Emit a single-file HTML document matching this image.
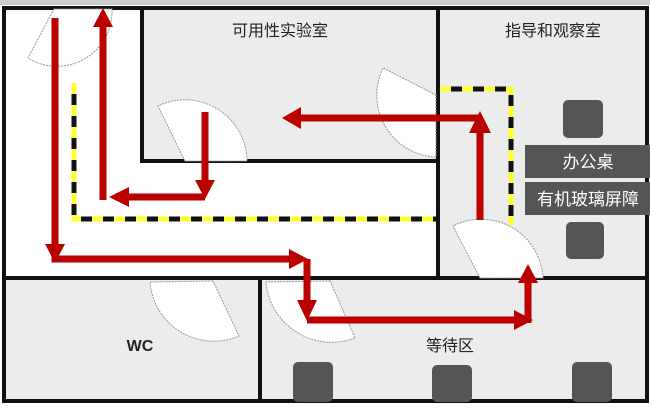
<!DOCTYPE html>
<html><head><meta charset="utf-8"><style>
body{margin:0;background:#fff}
svg text{font-family:"Liberation Sans","Noto Sans CJK SC",sans-serif}
</style></head><body>
<svg width="650" height="404" viewBox="0 0 650 404" xmlns="http://www.w3.org/2000/svg">
<rect width="650" height="404" fill="#fff"/>
<rect x="0" y="0" width="650" height="5" fill="#ccc"/>
<rect x="142" y="7" width="296" height="154" fill="#ececec"/>
<rect x="438" y="7" width="210" height="271" fill="#ececec"/>
<rect x="4" y="278" width="644" height="124" fill="#ececec"/>
<g stroke="#111" stroke-width="4" fill="none">
<rect x="4" y="8" width="643" height="393"/>
<polyline points="142,8 142,161 438,161"/>
<line x1="438" y1="8" x2="438" y2="278"/>
<line x1="4" y1="278" x2="647" y2="278"/>
<line x1="260" y1="278" x2="260" y2="401"/>
</g>
<g fill="#fff" stroke="#999" stroke-width="1" stroke-dasharray="2,1">
<path d="M54,9 L28,58 A55,55 0 0 0 112,9 Z"/>
<path d="M185,161 L158,106 A62,62 0 0 1 247,161 Z"/>
<path d="M436,95 L383,68 A62,62 0 0 0 436,157 Z"/>
<path d="M480,278 L453,226 A62,62 0 0 1 543,278 Z"/>
<path d="M213,281 L239,336 A64,64 0 0 1 150,282 Z"/>
<path d="M330,281 L355,338 A66,66 0 0 1 266,282 Z"/>
</g>
<g stroke-width="5" fill="none">
<polyline points="74,83 74,219 437,219" stroke="#ffff30"/>
<polyline points="74,83 74,219 437,219" stroke="#111" stroke-dasharray="11,11" stroke-dashoffset="-11"/>
<polyline points="440,89 511,89 511,225" stroke="#ffff30"/>
<polyline points="440,89 511,89 511,225" stroke="#111" stroke-dasharray="11,11" stroke-dashoffset="-11"/>
</g>
<g fill="#555">
<rect x="563" y="100" width="40" height="38" rx="5"/>
<rect x="566" y="222" width="38" height="37" rx="5"/>
<rect x="525" y="145" width="125" height="33"/>
<rect x="525" y="182" width="125" height="33"/>
<rect x="293" y="362" width="40" height="40" rx="5"/>
<rect x="432" y="365" width="40" height="37" rx="5"/>
<rect x="572" y="362" width="40" height="40" rx="5"/>
</g>
<text x="588" y="168" font-size="17" fill="#fff" text-anchor="middle">办公桌</text>
<text x="588" y="205" font-size="17" fill="#fff" text-anchor="middle">有机玻璃屏障</text>
<text x="280" y="36" font-size="16" fill="#222" text-anchor="middle">可用性实验室</text>
<text x="553" y="36" font-size="16" fill="#222" text-anchor="middle">指导和观察室</text>
<text x="140" y="351" font-size="16" font-weight="bold" fill="#222" text-anchor="middle">WC</text>
<text x="450" y="351" font-size="16" fill="#222" text-anchor="middle">等待区</text>
<g stroke="#b00" stroke-width="7" fill="none">
<polyline points="55,18 55,259 296,259"/>
<polyline points="307,259 307,310"/>
<polyline points="307,320 518,320"/>
<polyline points="528,323 528,280"/>
<polyline points="480,220 480,130"/>
<polyline points="480,118 295,118"/>
<polyline points="205,112 205,186"/>
<polyline points="205,197 115,197"/>
<polyline points="103,200 103,24"/>
</g>
<g fill="#b00">
<polygon points="45,244 65,244 55,263"/>
<polygon points="289,249 289,269 308,259"/>
<polygon points="297,300 317,300 307,321"/>
<polygon points="514,310 514,330 533,320"/>
<polygon points="518,283 538,283 528,264"/>
<polygon points="469,133 491,133 480,111"/>
<polygon points="301,107 301,129 282,118"/>
<polygon points="195,180 215,180 205,199"/>
<polygon points="129,187 129,207 109,197"/>
<polygon points="93,27 113,27 103,8"/>
</g>
</svg>
</body></html>
